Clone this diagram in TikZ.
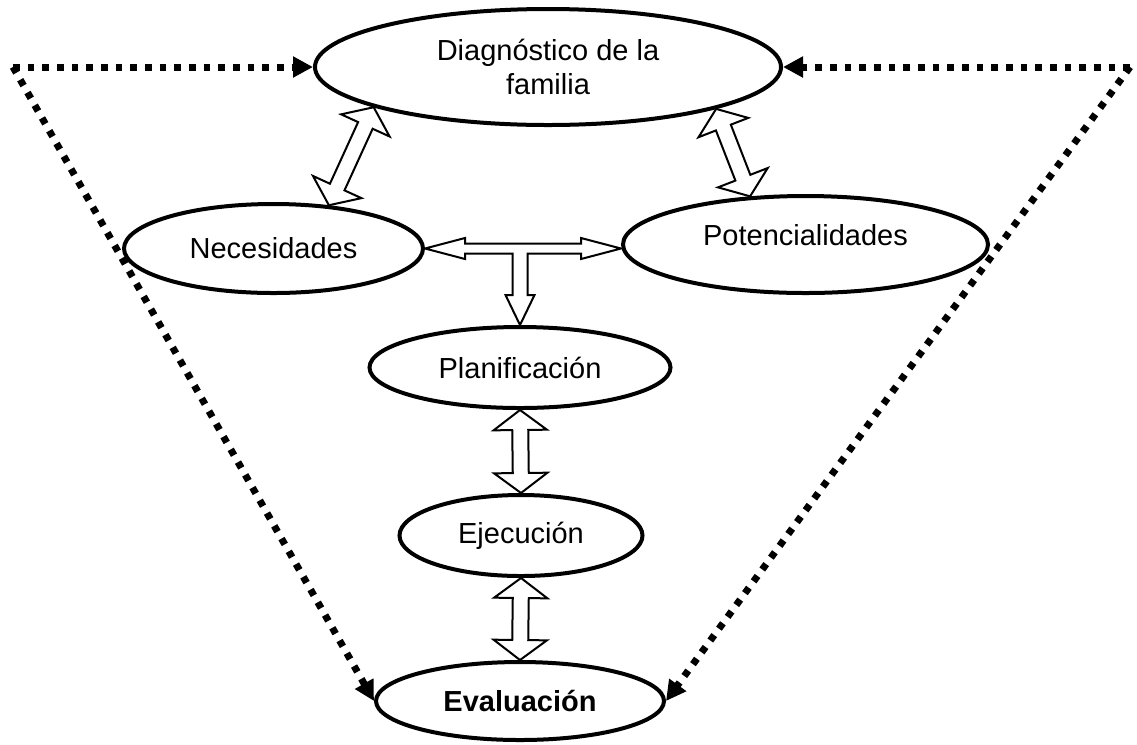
\documentclass[tikz,border=0pt]{standalone}
\usepackage{fontspec}
\setmainfont{Liberation Sans}
\usetikzlibrary{calc,arrows.meta,shapes.geometric}
\tikzset{
 ell/.style={ellipse, draw, line width=3pt, inner sep=0pt, align=center, font=\fontsize{21.75}{25}\selectfont},
 blk/.style={draw, line width=1.5pt, fill=white, line join=miter},
 dotline/.style={line width=5.25pt, dash pattern=on 5pt off 6pt, -{Triangle[length=15pt,width=15pt]}}
}
\newcommand\dblarr[2]{%
 \filldraw[blk] (#1) -- ($(#1)!15pt!(#2)!20pt!90:(#2)$) -- ($(#1)!15pt!(#2)!6pt!90:(#2)$)
  -- ($(#2)!15pt!(#1)!6pt!-90:(#1)$) -- ($(#2)!15pt!(#1)!20pt!-90:(#1)$) -- (#2)
  -- ($(#2)!15pt!(#1)!20pt!90:(#1)$) -- ($(#2)!15pt!(#1)!6pt!90:(#1)$)
  -- ($(#1)!15pt!(#2)!6pt!-90:(#2)$) -- ($(#1)!15pt!(#2)!20pt!-90:(#2)$) -- cycle;}
\begin{document}
\begin{tikzpicture}[x=0.75pt,y=-0.75pt]
\useasboundingbox (0,0) rectangle (1137,744);
\node[ell, minimum width=349.5pt, minimum height=87pt] (D) at (548,67) {Diagnóstico de la\\familia};
\node[ell, minimum width=224.25pt, minimum height=66.75pt] (N) at (273.5,248.5) {Necesidades};
\node[ell, minimum width=273.75pt, minimum height=72.75pt] (P) at (805.5,244.5) {\raisebox{15pt}{Potencialidades}};
\node[ell, minimum width=225.75pt, minimum height=60.75pt] (Pl) at (520,367.5) {Planificación};
\node[ell, minimum width=182.25pt, minimum height=60.75pt] (E) at (521,535.5) {Ejecución};
\node[ell, minimum width=216pt, minimum height=58.5pt] (Ev) at (520,701) {\textbf{Evaluación}};

\dblarr{D.193}{N.38}
\dblarr{D.346}{P.139}
\dblarr{Pl.south}{E.north}
\dblarr{E.south}{Ev.north}

\coordinate (L) at (N.east);
\coordinate (R) at (P.west |- N.east);
\coordinate (S) at (Pl.north);
\filldraw[blk] (L) -- ++(40,-10.5) -- ++(0,5.5) -- ($(R)+(-40,-5)$) -- ++(0,-5.5) -- (R)
  -- ++(-40,10.5) -- ++(0,-5.5) -- ($(S |- L)+(7.5,5)$) -- ($(S)+(7.5,-30)$) -- ++(7,0) -- (S)
  -- ++(-14.5,-30) -- ++(7,0) -- ($(S |- L)+(-7.5,5)$) -- ($(L)+(40,5)$) -- ++(0,5.5) -- cycle;

\coordinate (cl) at (13,67);
\coordinate (cr) at (1130,67);
\draw[dotline] (cl) -- (D.west);
\draw[dotline] (cl) -- (Ev.west);
\draw[dotline] (cr) -- (D.east);
\draw[dotline] (cr) -- (Ev.east);
\end{tikzpicture}
\end{document}
